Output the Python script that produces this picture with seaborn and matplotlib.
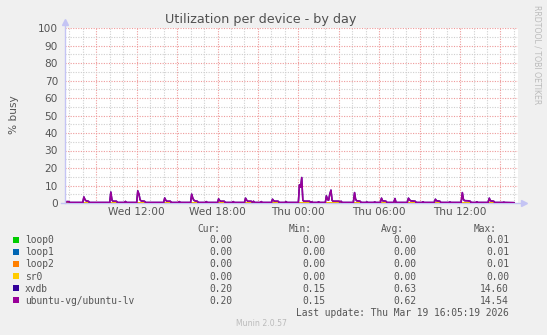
import matplotlib
matplotlib.use("Agg")
import matplotlib.pyplot as plt
import seaborn as sns
import pandas as pd
from matplotlib.ticker import FixedLocator, FuncFormatter, MultipleLocator
from matplotlib.patches import Rectangle

# ---------------- data (hours since Wed 00:00) ----------------
time_h = [6.70, 6.80, 6.95, 7.05, 8.00, 8.08, 8.17, 8.25, 8.42, 8.50,
          10.00, 10.08, 10.17, 10.25, 10.50, 10.58, 11.08, 11.17, 11.25,
          12.00, 12.08, 12.17, 12.25, 12.33, 12.58, 12.67,
          14.00, 14.08, 14.17, 14.25, 14.50, 14.58, 15.08, 15.17, 15.25,
          16.00, 16.08, 16.17, 16.25, 16.33, 16.50, 16.58, 17.08, 17.17, 17.25,
          18.00, 18.08, 18.17, 18.25, 18.50, 18.58, 19.08, 19.17, 19.25,
          20.00, 20.08, 20.17, 20.25, 20.50, 20.58, 20.67, 20.75, 21.17, 21.25, 21.33,
          22.00, 22.08, 22.17, 22.25, 22.50, 22.58, 23.00, 23.08, 23.17,
          24.00, 24.08, 24.17, 24.25, 24.33, 24.42, 24.83, 24.92, 25.00, 25.08, 25.42, 25.50, 25.58,
          26.00, 26.08, 26.17, 26.25, 26.33, 26.42, 26.50, 26.58, 27.00, 27.08, 27.17, 27.25,
          28.08, 28.17, 28.25, 28.33, 28.58, 28.67, 29.00, 29.08, 29.17, 29.58, 29.67, 29.75,
          30.08, 30.17, 30.25, 30.50, 30.58, 31.08, 31.17, 31.25,
          32.08, 32.17, 32.25, 32.33, 32.67, 32.75, 33.17, 33.25, 33.33,
          34.08, 34.17, 34.25, 34.50, 34.58, 35.17, 35.25, 35.33,
          36.08, 36.17, 36.25, 36.33, 36.58, 36.75, 36.83, 37.17, 37.25, 37.33,
          38.08, 38.17, 38.25, 38.50, 38.58, 39.17, 39.25, 39.33, 40.00]

lv_busy = [0.3, 0.8, 0.8, 0.3, 0.3, 3.4, 1.8, 1.2, 1.0, 0.3,
           0.3, 6.2, 1.5, 1.0, 1.0, 0.3, 0.3, 0.9, 0.3,
           0.3, 6.9, 5.0, 1.8, 1.2, 1.0, 0.3,
           0.3, 2.8, 1.4, 1.0, 1.0, 0.3, 0.3, 0.8, 0.3,
           0.3, 5.0, 2.6, 1.5, 1.2, 1.0, 0.3, 0.3, 0.8, 0.3,
           0.3, 2.3, 1.2, 1.0, 1.0, 0.3, 0.3, 0.8, 0.3,
           0.3, 2.7, 1.5, 1.0, 1.0, 0.5, 1.0, 0.3, 0.3, 0.8, 0.3,
           0.3, 2.1, 1.2, 1.0, 1.0, 0.3, 0.3, 0.8, 0.3,
           0.3, 10.3, 9.0, 14.5, 1.5, 1.0, 1.0, 0.3, 0.7, 0.3, 0.3, 0.7, 0.3,
           0.3, 4.0, 1.8, 1.6, 5.0, 7.3, 1.5, 1.0, 1.0, 0.6, 1.0, 0.3,
           0.3, 5.9, 2.0, 1.2, 1.0, 0.3, 0.3, 0.6, 0.3, 0.3, 0.6, 0.3,
           0.3, 2.7, 1.2, 1.0, 0.3, 0.3, 2.5, 0.3,
           0.3, 2.7, 1.8, 1.2, 1.0, 0.3, 0.3, 0.7, 0.3,
           0.3, 2.1, 1.2, 1.0, 0.3, 0.3, 0.6, 0.3,
           0.3, 5.9, 2.0, 1.3, 1.2, 1.0, 0.3, 0.3, 0.7, 0.3,
           0.3, 2.7, 1.2, 1.0, 0.3, 0.3, 0.5, 0.3, 0.2]

xvdb_busy = [0.3, 0.8, 0.8, 0.3, 0.3, 3.5, 1.9, 1.2, 1.0, 0.3,
             0.3, 6.3, 1.6, 1.0, 1.0, 0.3, 0.3, 0.9, 0.3,
             0.3, 7.0, 5.1, 1.9, 1.2, 1.0, 0.3,
             0.3, 2.9, 1.5, 1.0, 1.0, 0.3, 0.3, 0.8, 0.3,
             0.3, 5.1, 2.7, 1.6, 1.2, 1.0, 0.3, 0.3, 0.8, 0.3,
             0.3, 2.4, 1.3, 1.0, 1.0, 0.3, 0.3, 0.8, 0.3,
             0.3, 2.8, 1.6, 1.0, 1.0, 0.5, 1.0, 0.3, 0.3, 0.8, 0.3,
             0.3, 2.2, 1.3, 1.0, 1.0, 0.3, 0.3, 0.8, 0.3,
             0.3, 10.4, 9.1, 14.6, 1.6, 1.0, 1.0, 0.3, 0.7, 0.3, 0.3, 0.7, 0.3,
             0.3, 4.1, 1.9, 1.7, 5.1, 7.4, 1.6, 1.0, 1.0, 0.6, 1.0, 0.3,
             0.3, 6.0, 2.1, 1.3, 1.0, 0.3, 0.3, 0.6, 0.3, 0.3, 0.6, 0.3,
             0.3, 2.8, 1.3, 1.0, 0.3, 0.3, 2.6, 0.3,
             0.3, 2.8, 1.9, 1.3, 1.0, 0.3, 0.3, 0.7, 0.3,
             0.3, 2.2, 1.3, 1.0, 0.3, 0.3, 0.6, 0.3,
             0.3, 6.0, 2.1, 1.4, 1.3, 1.0, 0.3, 0.3, 0.7, 0.3,
             0.3, 2.8, 1.3, 1.0, 0.3, 0.3, 0.5, 0.3, 0.2]

flat_time_h = [6.70, 40.00]
loop0_busy = [0.0, 0.0]
loop1_busy = [0.0, 0.0]
loop2_busy = [0.0, 0.0]
sr0_busy = [0.0, 0.0]

devices = ["loop0", "loop1", "loop2", "sr0", "xvdb", "ubuntu-vg/ubuntu-lv"]
colors = ["#00CC00", "#0066B3", "#FF8000", "#FFCC00", "#330099", "#990099"]
cur_vals = ["0.00", "0.00", "0.00", "0.00", "0.20", "0.20"]
min_vals = ["0.00", "0.00", "0.00", "0.00", "0.15", "0.15"]
avg_vals = ["0.00", "0.00", "0.00", "0.00", "0.63", "0.62"]
max_vals = ["0.01", "0.01", "0.01", "0.00", "14.60", "14.54"]

tick_hours = [12, 18, 24, 30, 36]
tick_labels = ["Wed 12:00", "Wed 18:00", "Thu 00:00", "Thu 06:00", "Thu 12:00"]

# ---------------- build long table ----------------
frames = []
for name, t, v in [("loop0", flat_time_h, loop0_busy), ("loop1", flat_time_h, loop1_busy),
                   ("loop2", flat_time_h, loop2_busy), ("sr0", flat_time_h, sr0_busy),
                   ("xvdb", time_h, xvdb_busy), ("ubuntu-vg/ubuntu-lv", time_h, lv_busy)]:
    frames.append(pd.DataFrame({"hour": t, "busy": v, "device": name}))
df = pd.concat(frames, ignore_index=True)

W, H = 547, 335
fig = plt.figure(figsize=(W / 100, H / 100), dpi=100, facecolor="#F0F0F0")
L, R, T, B = 65, 518, 28, 203
ax = fig.add_axes([L / W, 1 - B / H, (R - L) / W, (B - T) / H])
ax.set_facecolor("white")

sns.lineplot(data=df, x="hour", y="busy", hue="device", hue_order=devices,
             palette=dict(zip(devices, colors)), ax=ax, legend=False,
             linewidth=1.1, estimator=None, sort=False)

ax.set_xlim(6.68, 40.3)
ax.set_ylim(0, 100)
ax.set_xlabel("")
ax.set_ylabel("")

txt = "#555555"
ax.xaxis.set_major_locator(FixedLocator([h for h in range(9, 41, 3)]))
ax.xaxis.set_minor_locator(MultipleLocator(1))
lab = dict(zip(tick_hours, tick_labels))
ax.xaxis.set_major_formatter(FuncFormatter(lambda x, p: lab.get(int(round(x)), "")))
ax.yaxis.set_major_locator(MultipleLocator(10))
ax.yaxis.set_minor_locator(MultipleLocator(5))
ax.tick_params(which="both", length=0, colors=txt, labelsize=7.6)
ax.tick_params(axis="y", pad=5)
ax.tick_params(axis="x", pad=3)
ax.set_axisbelow(True)
ax.grid(which="minor", color="#CFCFCF", linestyle=(0, (1, 1.3)), linewidth=0.8)
ax.grid(which="major", color="#EE9A9A", linestyle=(0, (1, 1.3)), linewidth=0.8)
for s in ax.spines.values():
    s.set_visible(False)

axc = "#C4C4F4"
ax.plot([0, 0], [0, 1.03], transform=ax.transAxes, color=axc, lw=1, clip_on=False)
ax.plot([-0.008, 1.012], [0, 0], transform=ax.transAxes, color=axc, lw=1, clip_on=False, zorder=1.5)
ax.plot([0], [1.035], transform=ax.transAxes, marker="^", ms=4, color=axc, clip_on=False)
ax.plot([1.014], [0], transform=ax.transAxes, marker=">", ms=4, color=axc, clip_on=False)

def fx(x):
    return x / W

def fy(y):
    return 1 - y / H

fig.text(fx(261), fy(19.5), "Utilization per device - by day", ha="center", va="center",
         fontsize=9.2, color="#505050")
fig.text(fx(14), fy(115), "% busy", rotation=90, ha="center", va="center",
         fontsize=7.6, color=txt)
fig.text(fx(537), fy(5), "RRDTOOL / TOBI OETIKER", rotation=270, ha="center", va="top",
         fontsize=5.6, color="#BBBBBB")

mono = "DejaVu Sans Mono"
fs = 6.9
def mtext(x, y, s, ha="left", color=txt):
    fig.text(fx(x), fy(y + 3.5), s, ha=ha, va="baseline", fontsize=fs,
             family=mono, color=color)

mtext(220, 228, "Cur:", ha="right")
mtext(312, 228, "Min:", ha="right")
mtext(404, 228, "Avg:", ha="right")
mtext(497, 228, "Max:", ha="right")
row_y = [239.5, 251.5, 263.7, 276, 288, 300]
for i, name in enumerate(devices):
    y = row_y[i]
    fig.add_artist(Rectangle((fx(13), fy(y + 3)), 6 / W, 6 / H, transform=fig.transFigure,
                             facecolor=colors[i], edgecolor="none"))
    mtext(25, y, name)
    mtext(232, y, cur_vals[i], ha="right")
    mtext(325, y, min_vals[i], ha="right")
    mtext(416, y, avg_vals[i], ha="right")
    mtext(509, y, max_vals[i], ha="right")
mtext(509, 312, "Last update: Thu Mar 19 16:05:19 2026", ha="right")
fig.text(fx(261), fy(324), "Munin 2.0.57", ha="center", va="center", fontsize=5.6,
         color="#BBBBBB")

fig.savefig("out.png", dpi=100, facecolor=fig.get_facecolor())
